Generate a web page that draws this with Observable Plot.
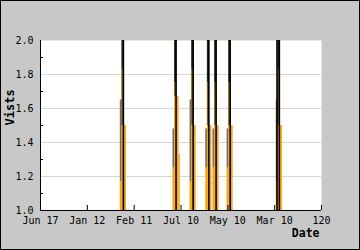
<!DOCTYPE html>
<html><head><meta charset="utf-8">
<script src="https://cdn.jsdelivr.net/npm/d3@7"></script>
<script src="https://cdn.jsdelivr.net/npm/@observablehq/plot@0.6"></script>
<style>
body{margin:0;background:#c8c8c8;}
#wrap{position:relative;width:360px;height:250px;}
#border{position:absolute;left:0;top:0;width:360px;height:250px;box-sizing:border-box;border:1px solid #000;pointer-events:none;}
svg{display:block;}
</style></head><body><div id="wrap"><div id="border"></div></div>
<script>
// Axis ticks and labels
const xTickValues = [0, 20, 40, 60, 80, 100, 120];
const xTickLabels = ["Jun 17", "Jan 12", "Feb 11", "Jul 10", "May 10", "Mar 10", "120"];
const yTickValues = [1.0, 1.2, 1.4, 1.6, 1.8, 2.0];
const yMinorTicks = [1.1, 1.3, 1.5, 1.7, 1.9];

// Spikes (visits, clipped at the top of the y range)
const spikeX      = [35.4, 57.9, 65.2, 71.9, 75.0, 81.0, 102.0];
const spikeTop    = [2.0, 2.0, 2.0, 2.0, 2.0, 2.0, 2.0];
const grayLow     = [1.17, 1.25, 1.17, 1.25, 1.25, 1.25, 1.17];
const grayHigh    = [1.65, 1.48, 1.65, 1.48, 1.48, 1.48, 1.65];
const darkLevel   = [1.83, 1.75, 1.83, 1.75, 1.75, 1.75, 1.83];
const secondBar   = [1.5, 1.67, 1.5, 1.5, 1.5, 1.5, 1.5];
const extraBarX   = [57.9];
const extraBarY   = [1.33];
const extraLineX  = [101.0];

const spikes = spikeX.map((x, i) => ({
  x, top: spikeTop[i], grayLow: grayLow[i], grayHigh: grayHigh[i],
  dark: darkLevel[i], second: secondBar[i]
}));
const extras = extraBarX.map((x, i) => ({x, y: extraBarY[i]}));
const lines = spikeX.concat(extraLineX).map(x => ({x, top: 2.0}));

const ORANGE = "#ffa500";
const font = "DejaVu Sans Mono";

const chart = Plot.plot({
  width: 360, height: 250,
  marginLeft: 40, marginRight: 39, marginTop: 40, marginBottom: 40,
  style: {background: "#c8c8c8", fontFamily: font, fontSize: "10px", color: "#000"},
  x: {domain: [0, 120]},
  y: {domain: [1, 2]},
  marks: [
    Plot.frame({fill: "white", stroke: null}),
    Plot.ruleY(yTickValues.slice(1, -1), {stroke: "#d6d6d6"}),
    // left shaded column
    Plot.ruleX(spikes, {x: "x", y1: 1, y2: "grayLow", stroke: ORANGE, strokeWidth: 2, dx: -2.6}),
    Plot.ruleX(spikes, {x: "x", y1: "grayLow", y2: "grayHigh", stroke: "#707070", strokeWidth: 2, dx: -2.6}),
    // middle column
    Plot.ruleX(spikes, {x: "x", y1: 1, y2: "second", stroke: ORANGE, strokeWidth: 2, dx: -1}),
    Plot.ruleX(spikes, {x: "x", y1: "second", y2: "dark", stroke: "#8c5a00", strokeWidth: 2, dx: -1}),
    Plot.ruleX(spikes, {x: "x", y1: "dark", y2: "top", stroke: "#2a2418", strokeWidth: 2, dx: -1}),
    // right bars
    Plot.ruleX(spikes, {x: "x", y1: 1, y2: "second", stroke: ORANGE, strokeWidth: 1.8, dx: 1.6}),
    Plot.ruleX(extras, {x: "x", y1: 1, y2: "y", stroke: ORANGE, strokeWidth: 1.4, dx: 3}),
    // black spike lines
    Plot.ruleX(lines, {x: "x", y1: 1, y2: "top", stroke: "#000", strokeWidth: 1.6}),
    // inner ticks
    Plot.tickY(yMinorTicks, {y: d => d, insetRight: 278, stroke: "#000"}),
    Plot.tickX(xTickValues.slice(1), {x: d => d, insetTop: 165, stroke: "#000"}),
    // axis lines
    Plot.ruleY([1], {stroke: "#000"}),
    Plot.ruleX([0], {stroke: "#000"}),
    Plot.axisX(xTickValues, {tickSize: 0, tickPadding: 6, label: null,
      tickFormat: d => xTickLabels[xTickValues.indexOf(d)], fontSize: 10}),
    Plot.axisY(yTickValues, {tickSize: 0, tickPadding: 7, label: null,
      tickFormat: d => d.toFixed(1), fontSize: 10}),
    Plot.text(["Vists"], {frameAnchor: "left", text: d => d, rotate: -90, dx: -30,
      fontWeight: "bold", fontSize: 12, fill: "#000"}),
    Plot.text(["Date"], {frameAnchor: "bottom-right", text: d => d, dx: -2, dy: 26,
      textAnchor: "end", fontWeight: "bold", fontSize: 11.5, fill: "#000"})
  ]
});
document.getElementById("wrap").prepend(chart);
</script>
</body></html>
